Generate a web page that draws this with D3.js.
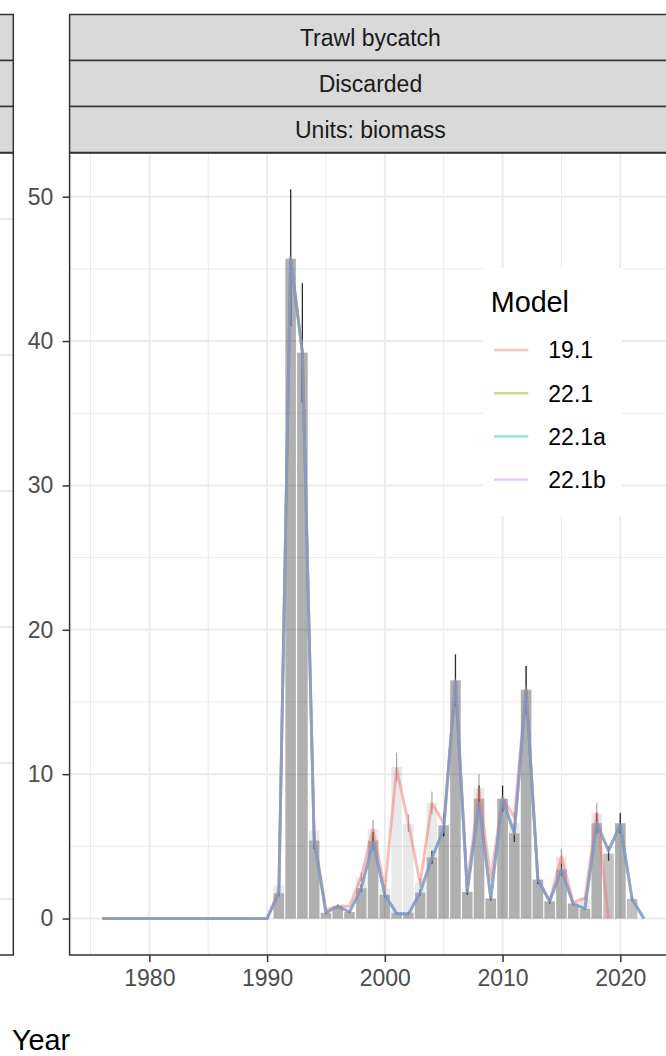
<!DOCTYPE html>
<html><head><meta charset="utf-8">
<script src="https://cdn.jsdelivr.net/npm/d3@7"></script>
<style>
body{margin:0;background:#fff;}
svg{display:block;font-family:"Liberation Sans",Arial,sans-serif;}
</style>
</head><body>
<svg id="c" width="666" height="1056"></svg>
<script>
// ---------- data ----------
const stripLabels = ["Trawl bycatch", "Discarded", "Units: biomass"];
const models = ["19.1", "22.1", "22.1a", "22.1b"];
const modelColors = ["#F8766D", "#7CAE00", "#00BFC4", "#C77CFF"];
const xTicks = [1980, 1990, 2000, 2010, 2020];
const xMinor = [1975, 1985, 1995, 2005, 2015];
const yTicks = [0, 10, 20, 30, 40, 50];
const yMinor = [5, 15, 25, 35, 45];

// observed years 1976..2021
const obsYears = d3.range(1976, 2022);
// observed discards, models 22.1 / 22.1a / 22.1b
const obs22 = [0,0,0,0,0,0,0,0,0,0,0,0,0,0,0,
  1.75,45.7,39.2,5.4,0.4,0.85,0.45,2.1,5.4,1.65,
  0.4,0.4,1.8,4.25,6.45,16.5,1.85,8.3,1.4,8.3,
  5.9,15.85,2.7,1.2,3.4,1.04,0.67,6.6,4.5,6.6,1.36];
const lo22 = [null,null,null,null,null,null,null,null,null,null,null,null,null,null,null,
  1.55,41.0,35.7,4.8,0.35,0.75,0.4,1.85,4.8,1.45,
  0.35,0.35,1.6,3.8,5.7,14.7,1.65,7.4,1.25,7.4,
  5.3,14.2,2.4,1.05,3.0,0.92,0.6,5.9,4.0,5.9,1.2];
const hi22 = [null,null,null,null,null,null,null,null,null,null,null,null,null,null,null,
  1.95,50.5,44.0,6.0,0.45,0.95,0.5,2.35,6.0,1.85,
  0.45,0.45,2.0,4.7,7.2,18.3,2.05,9.2,1.55,9.2,
  6.5,17.5,3.0,1.35,3.8,1.16,0.74,7.3,5.0,7.3,1.5];
// observed discards, model 19.1
const obs19 = [0,0,0,0,0,0,0,0,0,0,0,0,0,0,0,
  2.3,45.7,39.2,6.1,0.4,0.85,0.45,2.9,6.2,2.1,
  10.5,6.55,2.5,8.0,6.45,16.5,1.85,9.05,1.4,8.3,
  6.6,15.85,2.7,1.2,4.3,1.04,1.4,7.3,null,6.6,null];
const lo19 = [null,null,null,null,null,null,null,null,null,null,null,null,null,null,null,
  2.05,41.0,35.7,5.45,0.35,0.75,0.4,2.6,5.0,1.85,
  9.5,6.0,2.2,7.2,5.7,14.7,1.65,8.1,1.25,7.4,
  5.9,14.2,2.4,1.05,3.8,0.92,1.25,6.6,null,5.9,null];
const hi19 = [null,null,null,null,null,null,null,null,null,null,null,null,null,null,null,
  2.55,50.5,44.0,6.75,0.45,0.95,0.5,3.2,6.85,2.35,
  11.5,7.2,2.8,8.8,7.2,18.3,2.05,10.0,1.55,9.2,
  7.3,17.5,3.0,1.35,4.8,1.16,1.55,8.0,null,7.3,null];

// predicted discards
const pred22Years = d3.range(1976, 2023);
const pred22 = [0,0,0,0,0,0,0,0,0,0,0,0,0,0,0,
  1.75,45.7,39.2,5.4,0.4,0.85,0.45,2.1,5.3,1.65,
  0.35,0.3,1.8,4.2,6.2,16.4,1.85,8.0,1.4,8.3,
  5.9,15.8,2.7,1.2,3.4,1.0,0.7,6.6,4.7,6.5,1.36,0];
const pred19Years = d3.range(1976, 2020);
const pred19 = [0,0,0,0,0,0,0,0,0,0,0,0,0,0,0,
  2.0,45.8,39.2,5.6,0.6,0.85,0.85,2.9,6.2,2.0,
  10.4,6.6,2.45,8.0,6.6,16.5,2.3,9.0,2.7,8.4,
  7.0,16.0,2.7,1.2,4.3,1.1,1.43,7.3,0];

// ---------- build per-model tables ----------
const obsByModel = [
  {m: "19.1", v: obs19, lo: lo19, hi: hi19},
  {m: "22.1", v: obs22, lo: lo22, hi: hi22},
  {m: "22.1a", v: obs22, lo: lo22, hi: hi22},
  {m: "22.1b", v: obs22, lo: lo22, hi: hi22}
];
const predByModel = [
  {m: "19.1", yrs: pred19Years, v: pred19},
  {m: "22.1", yrs: pred22Years, v: pred22},
  {m: "22.1a", yrs: pred22Years, v: pred22},
  {m: "22.1b", yrs: pred22Years, v: pred22}
];
const color = d3.scaleOrdinal().domain(models).range(modelColors);

// ---------- layout ----------
const svg = d3.select("#c");
const P = {left: 69.6, right: 671.2, top: 153, bottom: 955};
const barW = 0.9;

const xLo = d3.min(obsYears) - barW / 2;
const xHi = d3.max(pred22Years);
const xPad = 0.05 * (xHi - xLo);
const x = d3.scaleLinear().domain([xLo - xPad, xHi + xPad]).range([P.left, P.right]);
const yMax = d3.max(hi22.concat(hi19).filter(v => v != null));
const yPad = 0.05 * yMax;
const y = d3.scaleLinear().domain([-yPad, yMax + yPad]).range([P.bottom, P.top]);

// left (neighbour) panel, partially visible
svg.append("rect").attr("x", -700).attr("y", P.top).attr("width", 713.3).attr("height", P.bottom - P.top)
  .attr("fill", "#fff");
const leftGrid = [219, 355, 491, 627, 763, 899];
svg.append("g").selectAll("line").data(leftGrid).join("line")
  .attr("x1", 0).attr("x2", 13.3).attr("y1", d => d).attr("y2", d => d)
  .attr("stroke", "#EBEBEB").attr("stroke-width", 2);
svg.append("rect").attr("x", -700).attr("y", P.top).attr("width", 713.3).attr("height", P.bottom - P.top)
  .attr("fill", "none").attr("stroke", "#333").attr("stroke-width", 1.5);

// clip
svg.append("defs").append("clipPath").attr("id", "pc").append("rect")
  .attr("x", P.left).attr("y", P.top).attr("width", P.right - P.left).attr("height", P.bottom - P.top);
const g = svg.append("g").attr("clip-path", "url(#pc)");

// grid
g.selectAll(".ym").data(yMinor).join("line")
  .attr("x1", P.left).attr("x2", P.right).attr("y1", d => y(d)).attr("y2", d => y(d))
  .attr("stroke", "#EBEBEB").attr("stroke-width", 1);
g.selectAll(".xm").data(xMinor).join("line")
  .attr("y1", P.top).attr("y2", P.bottom).attr("x1", d => x(d)).attr("x2", d => x(d))
  .attr("stroke", "#EBEBEB").attr("stroke-width", 1);
g.selectAll(".yM").data(yTicks).join("line")
  .attr("x1", P.left).attr("x2", P.right).attr("y1", d => y(d)).attr("y2", d => y(d))
  .attr("stroke", "#EBEBEB").attr("stroke-width", 2);
g.selectAll(".xM").data(xTicks).join("line")
  .attr("y1", P.top).attr("y2", P.bottom).attr("x1", d => x(d)).attr("x2", d => x(d))
  .attr("stroke", "#EBEBEB").attr("stroke-width", 2);

// bars (one translucent layer per model)
obsByModel.forEach(mo => {
  const rows = obsYears.map((yr, i) => ({yr, v: mo.v[i]})).filter(d => d.v != null && d.v > 0);
  g.append("g").selectAll("rect").data(rows).join("rect")
    .attr("x", d => x(d.yr - barW / 2)).attr("width", d => x(d.yr + barW / 2) - x(d.yr - barW / 2))
    .attr("y", d => y(d.v)).attr("height", d => y(0) - y(d.v))
    .attr("fill", "#000").attr("fill-opacity", 0.085);
});

// error bars
obsByModel.forEach(mo => {
  const rows = obsYears.map((yr, i) => ({yr, lo: mo.lo[i], hi: mo.hi[i]})).filter(d => d.lo != null);
  g.append("g").selectAll("line").data(rows).join("line")
    .attr("x1", d => x(d.yr)).attr("x2", d => x(d.yr))
    .attr("y1", d => y(d.lo)).attr("y2", d => y(d.hi))
    .attr("stroke", "#000").attr("stroke-opacity", 0.35).attr("stroke-width", 1.2);
});

// model lines
const line = d3.line().x(d => x(d.yr)).y(d => y(d.v));
predByModel.forEach(mo => {
  const rows = mo.yrs.map((yr, i) => ({yr, v: mo.v[i]}));
  g.append("path").datum(rows).attr("d", line)
    .attr("fill", "none").attr("stroke", color(mo.m)).attr("stroke-opacity", 0.5)
    .attr("stroke-width", 2.8).attr("stroke-linejoin", "round");
});

// panel border
svg.append("rect").attr("x", P.left).attr("y", P.top).attr("width", P.right - P.left)
  .attr("height", P.bottom - P.top).attr("fill", "none").attr("stroke", "#333").attr("stroke-width", 1.5);

// axes
const xAxis = svg.append("g").attr("transform", `translate(0,${P.bottom})`)
  .call(d3.axisBottom(x).tickValues(xTicks).tickFormat(d3.format("d")).tickSize(7).tickPadding(8));
const yAxis = svg.append("g").attr("transform", `translate(${P.left},0)`)
  .call(d3.axisLeft(y).tickValues(yTicks).tickSize(7).tickPadding(9.3));
[xAxis, yAxis].forEach(a => {
  a.select(".domain").remove();
  a.selectAll(".tick line").attr("stroke", "#333").attr("stroke-width", 1.5);
  a.selectAll(".tick text").attr("fill", "#4d4d4d").style("font-size", "23px")
    .style("font-family", '"Liberation Sans", Arial, sans-serif');
});

// strips
const stripTop = 14.5, stripH = 46;
stripLabels.forEach((lab, i) => {
  svg.append("rect").attr("x", P.left).attr("y", stripTop + i * stripH).attr("width", P.right - P.left)
    .attr("height", stripH).attr("fill", "#D9D9D9").attr("stroke", "#333").attr("stroke-width", 1.5);
  svg.append("text").attr("x", (P.left + P.right) / 2).attr("y", stripTop + i * stripH + stripH / 2 + 8)
    .attr("text-anchor", "middle").attr("fill", "#1a1a1a").style("font-size", "23px").text(lab);
  svg.append("rect").attr("x", -700).attr("y", stripTop + i * stripH).attr("width", 713.3)
    .attr("height", stripH).attr("fill", "#D9D9D9").attr("stroke", "#333").attr("stroke-width", 1.5);
});

// legend
const lg = svg.append("g");
lg.append("rect").attr("x", 483).attr("y", 268).attr("width", 139).attr("height", 248).attr("fill", "#fff");
lg.append("text").attr("x", 490.7).attr("y", 311.7).attr("fill", "#000").style("font-size", "28.75px").text("Model");
models.forEach((m, i) => {
  const yy = 350 + i * 43.2;
  lg.append("line").attr("x1", 494).attr("x2", 528.3).attr("y1", yy).attr("y2", yy)
    .attr("stroke", color(m)).attr("stroke-opacity", 0.45).attr("stroke-width", 2.4);
  lg.append("text").attr("x", 548.3).attr("y", yy + 8.3).attr("fill", "#000").style("font-size", "23px").text(m);
});

// axis title
svg.append("text").attr("x", 12).attr("y", 1050).attr("fill", "#000").style("font-size", "28.75px").text("Year");
</script>
</body></html>
